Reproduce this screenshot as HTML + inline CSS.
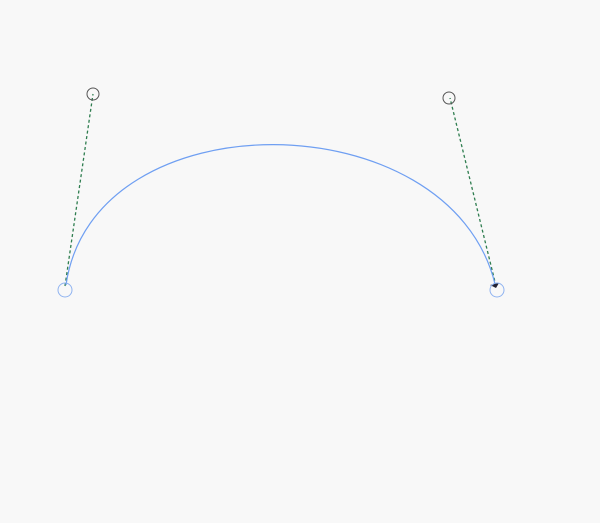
<!DOCTYPE html>
<html><head><meta charset="utf-8"><style>
html,body{margin:0;padding:0;background:#f8f8f8;}
svg{display:block;}
</style></head><body>
<svg width="600" height="523" viewBox="0 0 600 523">
<rect width="600" height="523" fill="#f8f8f8"/>
<line x1="65" y1="286" x2="93" y2="94" stroke="#2e7d4f" stroke-width="1.3" stroke-dasharray="3,2.5"/>
<line x1="496" y1="286" x2="450" y2="98" stroke="#2e7d4f" stroke-width="1.3" stroke-dasharray="3,2.5"/>
<path d="M66,285 C93,96 450,100 495,284" fill="none" stroke="#6f9ff2" stroke-width="1.2"/>
<path d="M490,285 L499,283 L496,288 Z" fill="#223"/>
<circle cx="93" cy="94" r="6" fill="none" stroke="#555" stroke-width="1"/>
<circle cx="449" cy="98" r="6" fill="none" stroke="#555" stroke-width="1"/>
<circle cx="65" cy="290" r="7" fill="none" stroke="#8fb3f0" stroke-width="1"/>
<circle cx="497" cy="290" r="7" fill="none" stroke="#8fb3f0" stroke-width="1"/>
</svg>
</body></html>
